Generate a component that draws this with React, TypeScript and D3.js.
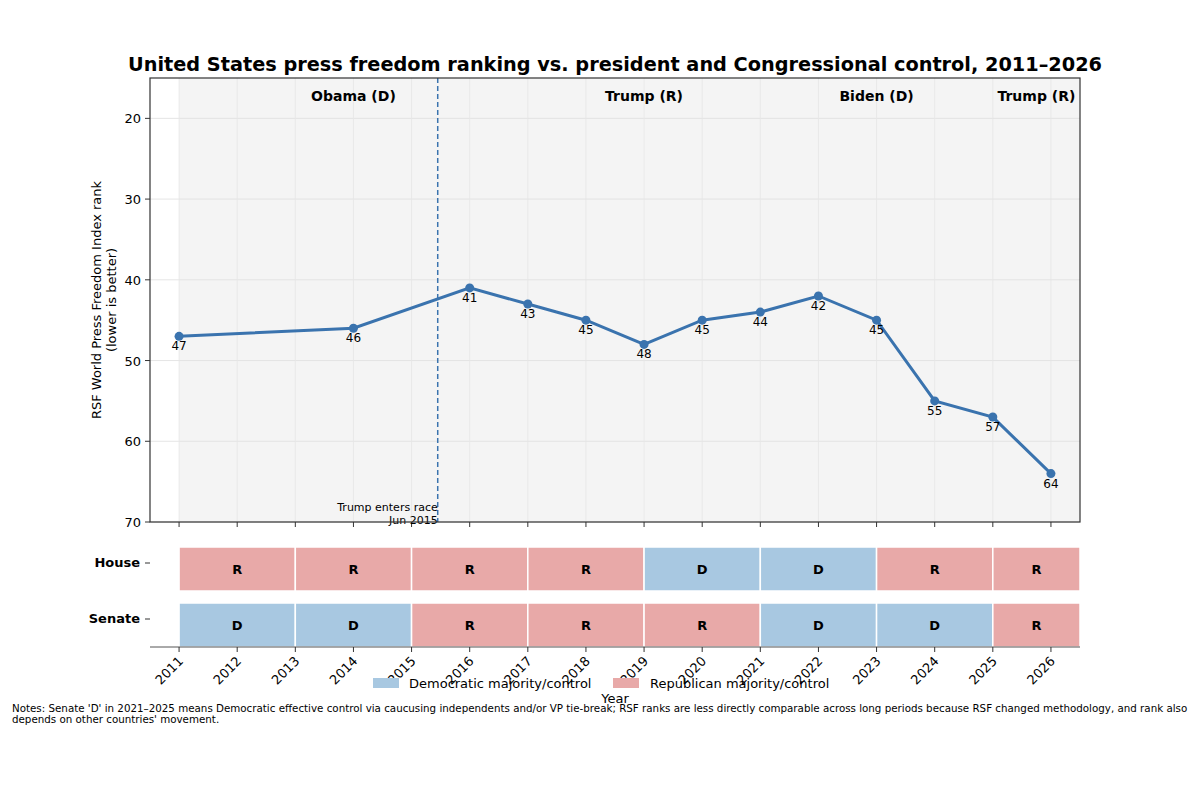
import React from "react";
import * as d3 from "d3";

const years = [2011, 2014, 2016, 2017, 2018, 2019, 2020, 2021, 2022, 2023, 2024, 2025, 2026];
const ranks = [47, 46, 41, 43, 45, 48, 45, 44, 42, 45, 55, 57, 64];
const congressStarts = [2011, 2013, 2015, 2017, 2019, 2021, 2023, 2025];
const congressEnds = [2013, 2015, 2017, 2019, 2021, 2023, 2025, 2026.5];
const house = ["R", "R", "R", "R", "D", "D", "R", "R"];
const senate = ["D", "D", "R", "R", "R", "D", "D", "R"];
const presidents = ["Obama (D)", "Trump (R)", "Biden (D)", "Trump (R)"];
const presStart = [2011, 2017, 2021, 2025];
const presEnd = [2017, 2021, 2025, 2026.5];
const yTicks = [20, 30, 40, 50, 60, 70];
const xTicks = d3.range(2011, 2027);

const BLUE = "#a8c8e1";
const RED = "#e8a9a8";
const LINE = "#3a73ae";
const FONT = "DejaVu Sans, sans-serif";

export default function App() {
  const W = 1200, H = 786;
  const x = d3.scaleLinear().domain([2010.5, 2026.5]).range([150, 1080]);
  const y = d3.scaleLinear().domain([15, 70]).range([78, 522]);
  const line = d3.line<number>().x((_, i) => x(years[i])).y((d) => y(d));
  const rows = [
    { name: "House", vals: house, top: 547 },
    { name: "Senate", vals: senate, top: 603 },
  ];
  const rowH = 44;
  return (
    <svg width={W} height={H} style={{ position: "absolute", left: 0, top: 0, fontFamily: FONT }}>
      <rect width={W} height={H} fill="white" />
      <text x={615} y={71} textAnchor="middle" fontSize={19.3} fontWeight="bold">
        United States press freedom ranking vs. president and Congressional control, 2011–2026
      </text>
      <rect x={x(2011)} y={78} width={x(2026.5) - x(2011)} height={444} fill="#f4f4f4" />
      {yTicks.map((t) => (
        <g key={t}>
          <line x1={150} x2={1080} y1={y(t)} y2={y(t)} stroke="#dedede" strokeWidth={0.8} />
          <line x1={145} x2={150} y1={y(t)} y2={y(t)} stroke="#333" />
          <text x={141} y={y(t) + 5} textAnchor="end" fontSize={13}>{t}</text>
        </g>
      ))}
      {xTicks.map((t) => (
        <g key={t}>
          <line x1={x(t)} x2={x(t)} y1={78} y2={522} stroke="#e6e6e6" strokeWidth={0.8} />
          <line x1={x(t)} x2={x(t)} y1={522} y2={527} stroke="#333" />
        </g>
      ))}
      {presidents.map((p, i) => (
        <text key={i} x={x((presStart[i] + presEnd[i]) / 2)} y={101} textAnchor="middle" fontSize={14} fontWeight="bold">{p}</text>
      ))}
      <line x1={x(2015.45)} x2={x(2015.45)} y1={78} y2={522} stroke={LINE} strokeWidth={1.5} strokeDasharray="5,3" />
      <text x={x(2015.45)} y={511} textAnchor="end" fontSize={11}>Trump enters race</text>
      <text x={x(2015.45)} y={524} textAnchor="end" fontSize={11}>Jun 2015</text>
      <path d={line(ranks) || ""} fill="none" stroke={LINE} strokeWidth={3} />
      {ranks.map((r, i) => (
        <g key={i}>
          <circle cx={x(years[i])} cy={y(r)} r={4.5} fill={LINE} />
          <text x={x(years[i])} y={y(r) + 14} textAnchor="middle" fontSize={12}>{r}</text>
        </g>
      ))}
      <rect x={150} y={78} width={930} height={444} fill="none" stroke="#333" strokeWidth={1.2} />
      <text transform={`translate(101,300) rotate(-90)`} textAnchor="middle" fontSize={13}>RSF World Press Freedom Index rank</text>
      <text transform={`translate(116,300) rotate(-90)`} textAnchor="middle" fontSize={13}>(lower is better)</text>
      {rows.map((row) => (
        <g key={row.name}>
          {row.vals.map((v, i) => (
            <g key={i}>
              <rect x={x(congressStarts[i])} y={row.top} width={x(congressEnds[i]) - x(congressStarts[i])} height={rowH}
                fill={v === "D" ? BLUE : RED} stroke="white" strokeWidth={1.5} />
              <text x={x((congressStarts[i] + congressEnds[i]) / 2)} y={row.top + rowH / 2 + 5}
                textAnchor="middle" fontSize={13} fontWeight="bold">{v}</text>
            </g>
          ))}
          <text x={140} y={row.top + rowH / 2 - 2} textAnchor="end" fontSize={13} fontWeight="bold">{row.name}</text>
          <line x1={145} x2={150} y1={row.top + rowH / 2 - 6} y2={row.top + rowH / 2 - 6} stroke="#333" />
        </g>
      ))}
      <line x1={150} x2={1080} y1={647} y2={647} stroke="#555" />
      {xTicks.map((t) => (
        <g key={t}>
          <line x1={x(t)} x2={x(t)} y1={647} y2={652} stroke="#333" />
          <text transform={`translate(${x(t) + 5},${662}) rotate(-45)`} textAnchor="end" fontSize={13}>{t}</text>
        </g>
      ))}
      <rect x={373} y={678} width={26} height={10} fill={BLUE} />
      <text x={409} y={688} fontSize={13}>Democratic majority/control</text>
      <rect x={613} y={678} width={26} height={10} fill={RED} />
      <text x={650} y={688} fontSize={13}>Republican majority/control</text>
      <text x={615} y={703} textAnchor="middle" fontSize={13}>Year</text>
      <text x={12} y={712} fontSize={10.3}>Notes: Senate 'D' in 2021–2025 means Democratic effective control via caucusing independents and/or VP tie-break; RSF ranks are less directly comparable across long periods because RSF changed methodology, and rank also</text>
      <text x={12} y={723} fontSize={10.3}>depends on other countries' movement.</text>
    </svg>
  );
}
